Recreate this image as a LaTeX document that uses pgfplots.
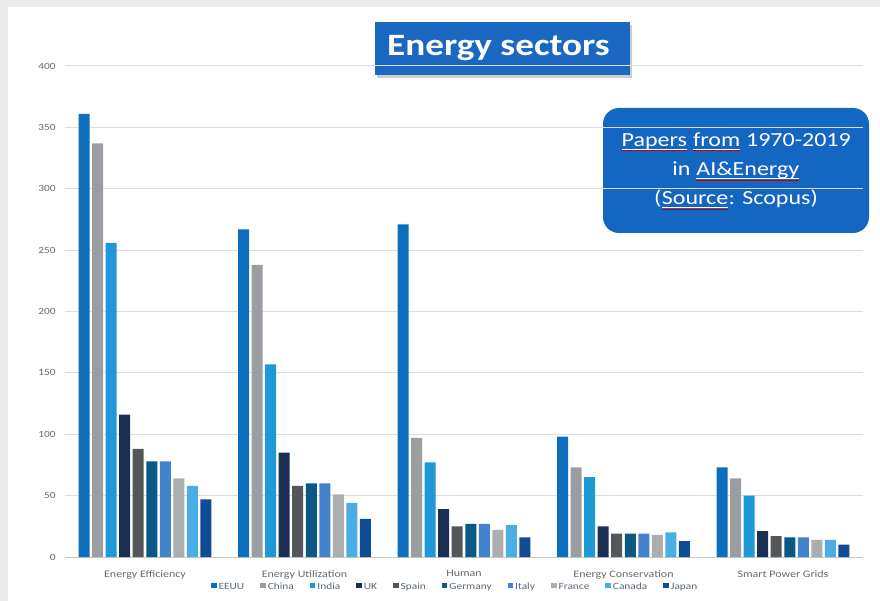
\documentclass[border=0pt]{standalone}
\usepackage{pgfplots}
\pgfplotsset{compat=1.18}
\usepackage{pgfplotstable}
\usepackage{fontspec}
\setmainfont{Carlito}[FakeStretch=1.2]
\usetikzlibrary{shadows}

\definecolor{cEEUU}{HTML}{0E6EBE}
\definecolor{cChina}{HTML}{9A9EA3}
\definecolor{cIndia}{HTML}{1F98D8}
\definecolor{cUK}{HTML}{1B2F55}
\definecolor{cSpain}{HTML}{54575A}
\definecolor{cGermany}{HTML}{0B5786}
\definecolor{cItaly}{HTML}{4383CC}
\definecolor{cFrance}{HTML}{ABAEB1}
\definecolor{cCanada}{HTML}{4AADE3}
\definecolor{cJapan}{HTML}{0E4C96}
\definecolor{gridc}{HTML}{DCDCDC}
\definecolor{axisc}{HTML}{C8C8C8}
\definecolor{labelc}{HTML}{6A6A6A}
\definecolor{legc}{HTML}{5A6878}
\definecolor{framec}{HTML}{EBEBEB}
\definecolor{titleblue}{HTML}{1B68C2}
\definecolor{boxblue}{HTML}{1367C3}

\newcommand\wul[1]{\tikz[baseline=(t.base)]{\node[inner sep=0pt,outer sep=0pt,text=white](t){#1};
  \draw[white,line width=0.8pt] ([yshift=-2.5pt]t.base west)--([yshift=-2.5pt]t.base east);
  \draw[red!75!black,line width=0.7pt] ([yshift=-4.3pt]t.base west)--([yshift=-4.3pt]t.base east);}}

\pgfplotstableread{
x EEUU China India UK Spain Germany Italy France Canada Japan
0 361 337 256 116 88 78 78 64 58 47
1 267 238 157 85 58 60 60 51 44 31
2 271 97 77 39 25 27 27 22 26 16
3 98 73 65 25 19 19 19 18 20 13
4 73 64 50 21 17 16 16 14 14 10
}\datatable

\begin{document}
\begin{tikzpicture}
% background frame
\fill[framec] (0pt,0pt) rectangle (880pt,-601pt);
\fill[white] (8pt,-7pt) rectangle (880pt,-601pt);

% title box
\node[fill=titleblue, drop shadow={shadow xshift=2pt, shadow yshift=-3pt, opacity=0.4},
      minimum width=255pt, minimum height=53pt, inner sep=0pt, text=white,
      font=\bfseries\fontsize{31}{36}\selectfont] at (502.5pt,-48.5pt) {\hspace*{-8pt}Energy sectors};

% info box
\fill[boxblue, rounded corners=16pt] (603pt,-108pt) rectangle (869pt,-233pt);
\node[text=white, font=\fontsize{20}{24}\selectfont] at (736pt,-142pt) {\wul{Papers} \wul{from} 1970-2019};
\node[text=white, font=\fontsize{20}{24}\selectfont] at (736pt,-171pt) {in \wul{AI\&Energy}};
\node[text=white, font=\fontsize{20}{24}\selectfont] at (736pt,-200pt) {(\wul{Source}: Scopus)};

\begin{axis}[
  at={(65.25pt,-557pt)}, anchor=south west,
  scale only axis, width=797.5pt, height=491pt,
  xmin=-0.5, xmax=4.5, ymin=0, ymax=400,
  ybar=2.54pt, bar width=11pt,
  xtick={0,1,2,3,4},
  xticklabels={Energy Efficiency, Energy Utilization, Human, Energy Conservation, Smart Power Grids},
  ytick={0,50,...,400},
  ymajorgrids, grid style={draw=gridc, line width=1pt},
  axis x line*=bottom, axis y line*=left,
  x axis line style={draw=axisc, line width=1pt, -},
  y axis line style={draw=none},
  major tick length=0pt,
  tick label style={text=labelc},
  xticklabel style={font=\fontsize{10}{11}\selectfont, yshift=-10pt},
  yticklabel style={font=\fontsize{9.5}{11}\selectfont, xshift=-6pt},
  /pgf/number format/assume math mode=true,
  legend style={at={(0.489,0)}, anchor=center, yshift=-30pt, draw=none, fill=none,
     legend columns=10, font=\fontsize{9.5}{10}\selectfont, text=legc,
     /tikz/every even column/.append style={column sep=14pt}},
  legend image code/.code={\fill[#1] (0pt,-1pt) rectangle (5.5pt,4.5pt);},
]
\addplot[fill=cEEUU, draw=none] table[x=x,y=EEUU]{\datatable};
\addplot[fill=cChina, draw=none] table[x=x,y=China]{\datatable};
\addplot[fill=cIndia, draw=none] table[x=x,y=India]{\datatable};
\addplot[fill=cUK, draw=none] table[x=x,y=UK]{\datatable};
\addplot[fill=cSpain, draw=none] table[x=x,y=Spain]{\datatable};
\addplot[fill=cGermany, draw=none] table[x=x,y=Germany]{\datatable};
\addplot[fill=cItaly, draw=none] table[x=x,y=Italy]{\datatable};
\addplot[fill=cFrance, draw=none] table[x=x,y=France]{\datatable};
\addplot[fill=cCanada, draw=none] table[x=x,y=Canada]{\datatable};
\addplot[fill=cJapan, draw=none] table[x=x,y=Japan]{\datatable};
\legend{EEUU,China,India,UK,Spain,Germany,Italy,France,Canada,Japan}
\end{axis}

\pgfresetboundingbox
\path[use as bounding box] (0pt,0pt) rectangle (880pt,-601pt);
\end{tikzpicture}
\end{document}
